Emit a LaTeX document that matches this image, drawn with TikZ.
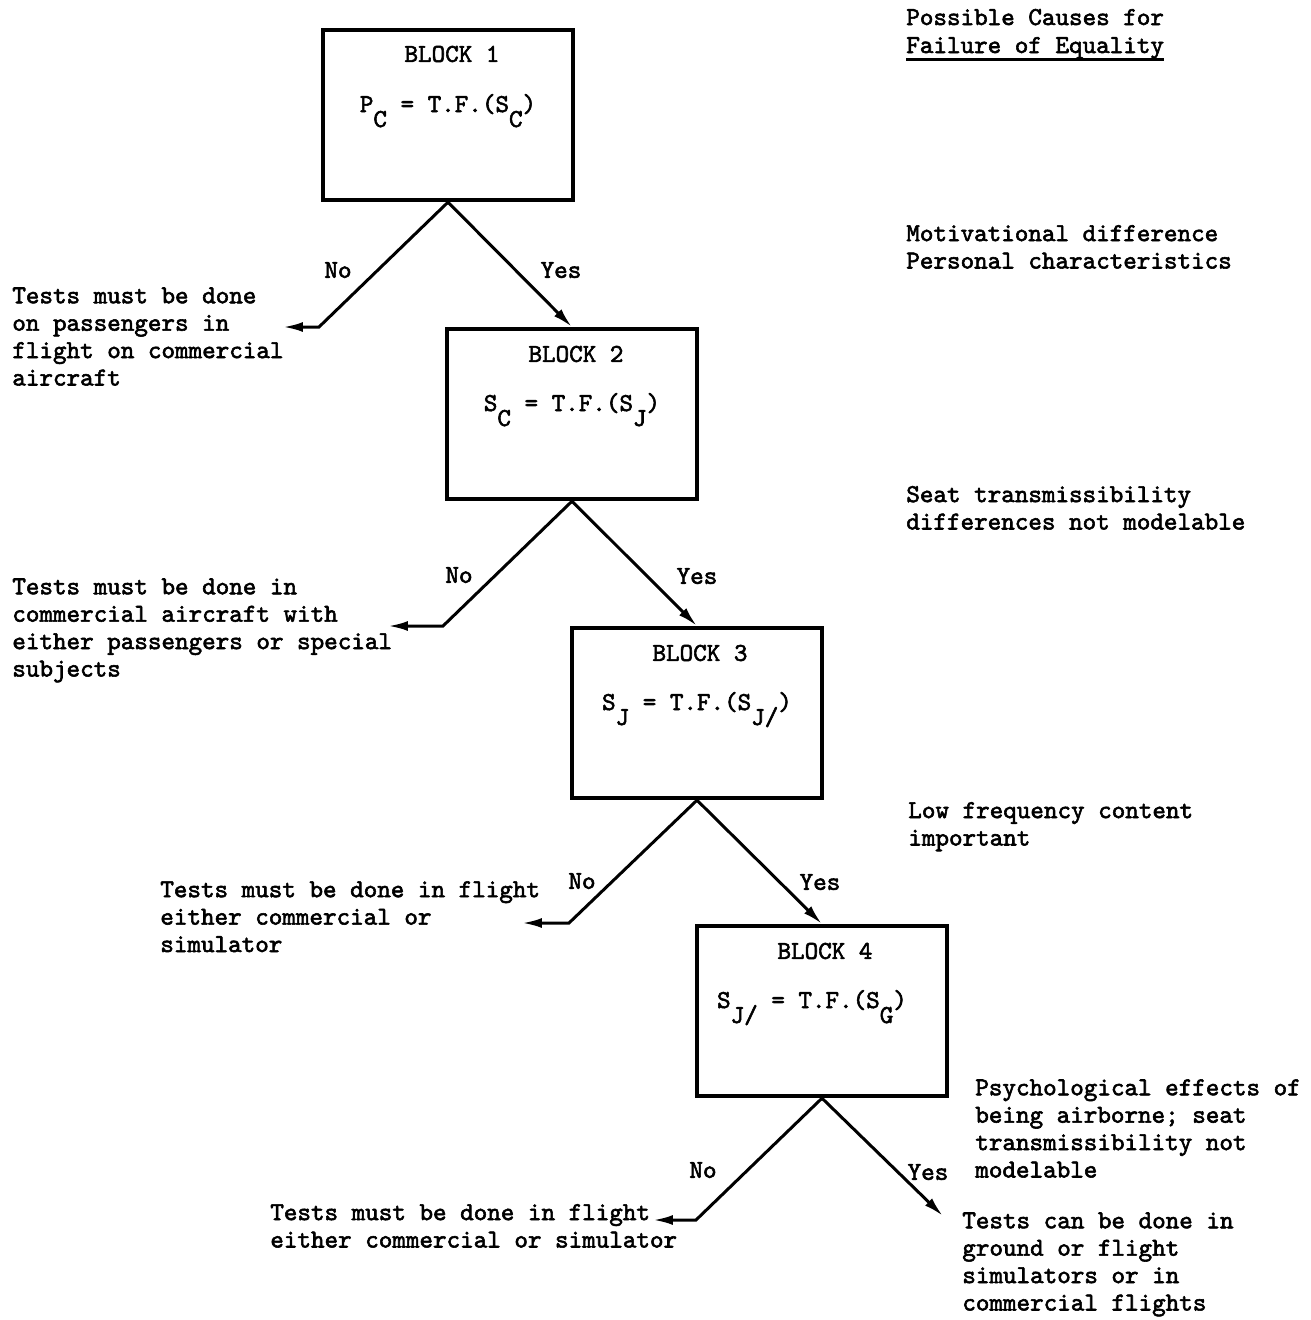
\documentclass[tikz,border=0pt]{standalone}
\usepackage{fontspec}
\newfontfamily\tw{lmmono10-regular}[Extension=.otf, FakeBold=2.2]
\usetikzlibrary{arrows.meta}
\newcommand{\lo}[1]{\raisebox{-0.58em}{#1}}
\begin{document}
\begin{tikzpicture}[x=0.02cm,y=-0.02cm,
  every node/.style={font=\tw\fontsize{14.7pt}{15.6pt}\selectfont, inner sep=0pt},
  box/.style={draw, line width=2.4pt, minimum width=5cm, minimum height=3.4cm, anchor=north},
  txt/.style={align=left, anchor=base west},
  lab/.style={anchor=center},
  conn/.style={line width=1.7pt, -{Latex[length=0.4cm,width=0.2cm]}},
  uline/.style={line width=1.4pt}
]
\useasboundingbox (0,0) rectangle (1311,1320);
\fill[white] (0,0) rectangle (1311,1320);

% blocks
\node[box] (b1) at (448,28) {};
\node[box] (b2) at (572,327) {};
\node[box] (b3) at (697,626) {};
\node[box] (b4) at (822,924) {};

\node[anchor=center] (t1) at (452,54) {BLOCK 1};
\node[anchor=center] (t2) at (576,354) {BLOCK 2};
\node[anchor=center] (t3) at (700,653) {BLOCK 3};
\node[anchor=center] (t4) at (825,951) {BLOCK 4};

\node[anchor=base] (f1) at (448,112) {P\lo{C} = T.F.(S\lo{C})};
\node[anchor=base] (f2) at (572,411) {S\lo{C} = T.F.(S\lo{J})};
\node[anchor=base] (f3) at (697,710) {S\lo{J} = T.F.(S\lo{J/})};
\node[anchor=base] (f4) at (812,1008) {S\lo{J/} = T.F.(S\lo{G})};

% header
\node[txt] (h1) at (906,25) {Possible Causes for};
\node[txt] (h2) at (906,53) {Failure of Equality};
\draw[uline] ([yshift=-0.13cm]h2.base west) -- ([yshift=-0.13cm]h2.base east);

% causes (anchor = baseline of last line)
\node[txt] (c1) at (906,268.5) {Motivational difference\\Personal characteristics};
\node[txt] (c2) at (906,529.5) {Seat transmissibility\\differences not modelable};
\node[txt] (c3) at (908,845.5) {Low frequency content\\important};
\node[txt] (c4) at (975,1177.5) {Psychological effects of\\being airborne; seat\\transmissibility not\\modelable};

% outcomes
\node[txt] (o1) at (12,385.5) {Tests must be done\\on passengers in\\flight on commercial\\aircraft};
\node[txt] (o2) at (12,676.5) {Tests must be done in\\commercial aircraft with\\either passengers or special\\subjects};
\node[txt] (o3) at (160,952) {Tests must be done in flight\\either commercial or\\simulator};
\node[txt] (o4) at (270,1247.5) {Tests must be done in flight\\either commercial or simulator};
\node[txt] (o5) at (962,1310.5) {Tests can be done in\\ground or flight\\simulators or in\\commercial flights};

% labels
\node[lab] (n1l) at (338,270) {No};
\node[lab] (y1l) at (561,270) {Yes};
\node[lab] (n2l) at (459,575) {No};
\node[lab] (y2l) at (697,576) {Yes};
\node[lab] (n3l) at (582,881) {No};
\node[lab] (y3l) at (820,882) {Yes};
\node[lab] (n4l) at (703,1170) {No};
\node[lab] (y4l) at (928,1172) {Yes};

% connector points
\coordinate (k1) at (319,327); \coordinate (e1) at (283,327);
\coordinate (k2) at (443,626); \coordinate (e2) at (388,626);
\coordinate (k3) at (569,923); \coordinate (e3) at (522,923);
\coordinate (k4) at (696,1220); \coordinate (e4) at (653,1220);
\coordinate (e5) at (943,1216);

\draw[conn] (b1.south) -- (k1) -- (e1);
\draw[conn] (b1.south) -- (b2.north);
\draw[conn] (b2.south) -- (k2) -- (e2);
\draw[conn] (b2.south) -- (b3.north);
\draw[conn] (b3.south) -- (k3) -- (e3);
\draw[conn] (b3.south) -- (b4.north);
\draw[conn] (b4.south) -- (k4) -- (e4);
\draw[conn] (b4.south) -- (e5);
\end{tikzpicture}
\end{document}
